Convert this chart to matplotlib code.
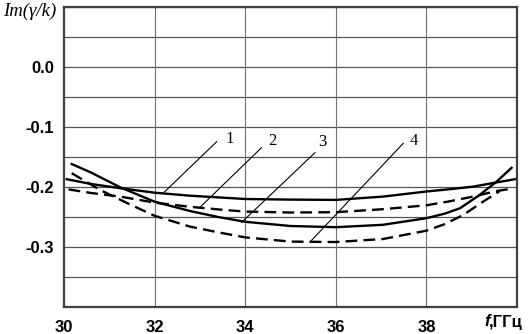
import matplotlib
matplotlib.use("Agg")
import matplotlib.pyplot as plt
import numpy as np

# ---- data ----
x1 = [30.06, 30.6, 31.24, 32.0, 32.78, 34.0, 35.0, 36.0, 37.04, 38.0, 38.6, 39.03, 39.5, 39.96]
y1 = [-0.187, -0.195, -0.202, -0.2095, -0.2145, -0.220, -0.221, -0.2215, -0.216, -0.2075, -0.203, -0.1994, -0.193, -0.187]

x2 = [30.1, 30.6, 31.24, 32.0, 32.78, 33.5, 34.0, 35.0, 36.0, 37.04, 38.0, 38.5, 39.03, 39.55, 39.84]
y2 = [-0.204, -0.210, -0.216, -0.226, -0.233, -0.238, -0.241, -0.2425, -0.242, -0.237, -0.2305, -0.224, -0.216, -0.2067, -0.2033]

x3 = [30.17, 30.6, 31.24, 32.0, 32.78, 33.4, 34.0, 35.0, 36.0, 37.04, 38.0, 38.4, 38.74, 39.18, 39.55, 39.88]
y3 = [-0.1617, -0.176, -0.2005, -0.2245, -0.240, -0.250, -0.258, -0.265, -0.267, -0.263, -0.252, -0.2445, -0.2355, -0.213, -0.191, -0.168]

x4 = [30.17, 30.8, 31.4, 32.0, 32.78, 33.4, 34.0, 35.0, 36.0, 37.04, 38.0, 38.4, 38.81, 39.25, 39.62]
y4 = [-0.177, -0.205, -0.227, -0.248, -0.266, -0.2755, -0.284, -0.291, -0.2917, -0.2867, -0.2728, -0.262, -0.2467, -0.2245, -0.2067]

curve_labels = ["1", "2", "3", "4"]
label_x = [33.66, 34.60, 35.70, 37.72]
label_y = [-0.1195, -0.123, -0.1245, -0.123]
leader_x0 = [33.37, 34.36, 35.54, 37.49]
leader_y0 = [-0.1245, -0.1345, -0.1428, -0.1272]
leader_x1 = [32.21, 33.00, 33.92, 35.43]
leader_y1 = [-0.2088, -0.2339, -0.259, -0.2917]

xticks = [30, 32, 34, 36, 38, 40]
xticklabels = ["30", "32", "34", "36", "38", ""]
ygrid = [-0.4, -0.35, -0.3, -0.25, -0.2, -0.15, -0.1, -0.05, 0.0, 0.05, 0.1]
ylabeled = {0.0: "0.0", -0.1: "-0.1", -0.2: "-0.2", -0.3: "-0.3"}

# ---- figure ----
W, H = 529, 334
fig = plt.figure(figsize=(W / 100, H / 100), dpi=100)
ax = fig.add_axes([64 / W, 1 - 307 / H, (517 - 64) / W, (307 - 7) / H])
ax.set_xlim(30, 40)
ax.set_ylim(-0.4, 0.1)

# grid
for yv in ygrid:
    ax.axhline(yv, color="#555555", lw=0.9, zorder=1)
for xv in xticks[1:-1]:
    ax.axvline(xv, color="#707070", lw=0.8, zorder=1)

lw = 1.7
ax.plot(x1, y1, color="black", lw=lw, zorder=3)
ax.plot(x2, y2, color="black", lw=lw, dashes=(5, 2.6), zorder=3)
ax.plot(x3, y3, color="black", lw=lw, zorder=3)
ax.plot(x4, y4, color="black", lw=lw, dashes=(5, 2.6), zorder=3)

for lab, lx, ly, a0, b0, a1, b1 in zip(curve_labels, label_x, label_y,
                                        leader_x0, leader_y0, leader_x1, leader_y1):
    ax.plot([a0, a1], [b0, b1], color="black", lw=0.8, zorder=4)
    ax.text(lx, ly, lab, fontfamily="Liberation Serif", fontsize=12,
            ha="center", va="center", zorder=5)

# ticks
ax.set_xticks(xticks)
ax.set_xticklabels(xticklabels, fontfamily="Liberation Sans", fontweight="bold", fontsize=12)
ax.set_yticks(ygrid)
ax.set_yticklabels([ylabeled.get(round(v, 2), "") for v in ygrid],
                   fontfamily="Liberation Sans", fontweight="bold", fontsize=12)
ax.tick_params(axis="both", length=0)
ax.tick_params(axis="x", pad=9)
ax.tick_params(axis="y", pad=7)

for s in ax.spines.values():
    s.set_color("#404040")
    s.set_linewidth(1.6)
    s.set_zorder(6)

fig.text(3 / W, 1 - 11.5 / H, "Im(γ/k)", fontfamily="Liberation Serif",
         style="italic", fontsize=13.5, ha="left", va="center")
fig.text(484 / W, 1 - 322 / H, "f", fontfamily="Liberation Sans", style="italic",
         fontweight="bold", fontsize=12, ha="left", va="center")
fig.text(489 / W, 1 - 322 / H, ",ГГц", fontfamily="Liberation Sans",
         fontweight="bold", fontsize=12, ha="left", va="center")

fig.savefig("out.png", dpi=100, facecolor="white")
